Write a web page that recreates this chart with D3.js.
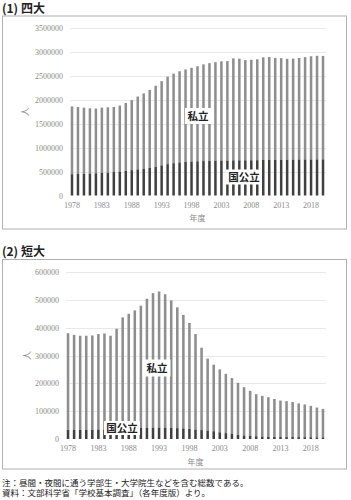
<!DOCTYPE html>
<html><head><meta charset="utf-8">
<script src="https://cdn.jsdelivr.net/npm/d3@7"></script>
<style>body{margin:0;background:#fff;}svg{display:block;}</style>
</head><body>
<svg id="c" width="351" height="500"></svg>
<script>
const years = d3.range(1978, 2021);
const tickYears = [1978,1983,1988,1993,1998,2003,2008,2013,2018];

// (1) 四大: 国公立 and total
const univPublic = [445000,450000,455000,460000,465000,470000,475000,490000,500000,515000,
  530000,545000,560000,580000,600000,630000,655000,675000,690000,700000,
  710000,715000,720000,725000,728000,730000,730000,735000,735000,735000,
  735000,738000,745000,748000,748000,748000,748000,750000,752000,752000,
  753000,755000,755000];
const univTotal = [1862000,1849000,1835000,1822000,1818000,1836000,1843000,1849000,1879000,1934000,
  1994000,2067000,2133000,2206000,2293000,2390000,2482000,2547000,2597000,2634000,
  2668000,2701000,2740000,2766000,2786000,2804000,2809000,2865000,2859000,2829000,
  2836000,2846000,2887000,2893000,2876000,2869000,2856000,2860000,2874000,2891000,
  2909000,2919000,2916000];
const univTicks = [0,500000,1000000,1500000,2000000,2500000,3000000,3500000];

// (2) 短大
const jcPublic = [33000,33000,33000,33000,33000,34000,34000,35000,35000,36000,
  37000,38000,40000,41000,41000,41000,41000,40000,39000,38000,
  36000,34000,32000,30000,28000,24000,21000,18000,15000,13000,
  11000,10000,9000,8500,8000,7500,7000,7000,6800,6500,
  6300,6000,5800];
const jcTotal = [380000,374000,371000,371000,372000,377000,379000,371000,396000,437000,
  450000,462000,479000,504000,524000,530000,520000,498000,473000,446000,
  417000,377000,328000,289000,267000,250000,234000,219000,202000,186000,
  173000,161000,155000,150000,144000,138000,136000,133000,128000,124000,
  119000,113000,108000];
const jcTicks = [0,100000,200000,300000,400000,500000,600000];

const titles = ["(1) 四大","(2) 短大"];
const seriesLabels = ["私立","国公立"];
const notes = ["注：昼間・夜間に通う学部生・大学院生などを含む総数である。",
  "資料：文部科学省「学校基本調査」（各年度版）より。"];

const svg = d3.select("#c");
const JP = "'Noto Sans CJK JP','Noto Sans',sans-serif";
const SERIF = "'Liberation Serif','DejaVu Serif',serif";
const cPriv = "#8e8e8e", cPub = "#404040";

function panel(cfg){
  const g = svg.append("g");
  g.append("text").attr("x",2).attr("y",cfg.titleY).attr("dy","0.36em").text(cfg.title)
    .attr("font-family",JP).attr("font-weight","bold").attr("font-size",12).attr("fill","#222");
  g.append("rect").attr("x",2.5).attr("y",cfg.boxTop).attr("width",344)
    .attr("height",cfg.boxBottom-cfg.boxTop).attr("fill","none").attr("stroke","#b0b0b0").attr("stroke-width",1);
  const x = d3.scaleBand().domain(years).range(cfg.xr).paddingInner(0.58).paddingOuter(0.29);
  const y = d3.scaleLinear().domain([0,cfg.max]).range(cfg.yr);
  g.append("g").selectAll("line").data(cfg.ticks.filter(d=>d>0)).join("line")
    .attr("x1",cfg.xr[0]+1).attr("x2",cfg.xr[1]).attr("y1",d=>Math.round(y(d))+0.5).attr("y2",d=>Math.round(y(d))+0.5)
    .attr("stroke","#e8e8e8").attr("stroke-width",1);
  const ya = d3.axisLeft(y).tickValues(cfg.ticks).tickSize(0).tickPadding(0).tickFormat(d=>String(d));
  const yg = g.append("g").attr("transform",`translate(${cfg.tickX},0)`).call(ya);
  yg.select(".domain").remove();
  yg.selectAll("text").attr("font-family",SERIF).attr("font-size",8).attr("fill","#8a8a8a");
  const data = years.map((yr,i)=>({yr, pub:cfg.pub[i], tot:cfg.tot[i]}));
  g.append("g").selectAll("rect").data(data).join("rect")
    .attr("x",d=>x(d.yr)).attr("width",x.bandwidth())
    .attr("y",d=>y(d.tot)).attr("height",d=>y(d.pub)-y(d.tot)).attr("fill",cPriv);
  g.append("g").selectAll("rect").data(data).join("rect")
    .attr("x",d=>x(d.yr)).attr("width",x.bandwidth())
    .attr("y",d=>y(d.pub)).attr("height",d=>y(0)-y(d.pub)).attr("fill",cPub);
  const xa = d3.axisBottom(x).tickValues(tickYears).tickSize(0).tickPadding(0);
  const xg = g.append("g").attr("transform",`translate(0,${cfg.xLabY})`).call(xa);
  xg.select(".domain").remove();
  xg.selectAll("text").attr("font-family",SERIF).attr("font-size",8).attr("fill","#8a8a8a").attr("dy","0.35em");
  const cx = (cfg.xr[0]+cfg.xr[1])/2;
  g.append("text").attr("x",cx).attr("y",cfg.nendoY).attr("text-anchor","middle").attr("dy","0.35em")
    .attr("font-family",JP).attr("font-size",8).attr("fill","#8a8a8a").text("年度");
  const ymid = (cfg.yr[0]+cfg.yr[1])/2;
  g.append("text").attr("transform",`translate(${cfg.unitX},${ymid}) rotate(-90)`).attr("text-anchor","middle")
    .attr("dy","0.35em").attr("font-family",JP).attr("font-size",9).attr("fill","#8a8a8a").text("人");
  cfg.labels.forEach(l=>{
    g.append("rect").attr("x",l.x-l.w/2).attr("y",l.y-l.h/2).attr("width",l.w).attr("height",l.h).attr("fill","#fff");
    g.append("text").attr("x",l.x).attr("y",l.y).attr("text-anchor","middle").attr("dy","0.36em")
      .attr("font-family",JP).attr("font-weight","bold").attr("font-size",10.5).attr("fill","#222").text(l.t);
  });
}

panel({title:titles[0], titleY:8.5, boxTop:16, boxBottom:229, xr:[69,326], yr:[195.5,28], max:3500000,
  ticks:univTicks, pub:univPublic, tot:univTotal, tickX:63, xLabY:205, nendoY:218, unitX:25,
  labels:[{t:seriesLabels[0],x:198,y:116,w:26,h:16},{t:seriesLabels[1],x:244,y:177,w:36,h:15}]});
panel({title:titles[1], titleY:251.5, boxTop:259.5, boxBottom:469, xr:[65,326], yr:[439,272], max:600000,
  ticks:jcTicks, pub:jcPublic, tot:jcTotal, tickX:59, xLabY:448, nendoY:462, unitX:27,
  labels:[{t:seriesLabels[0],x:157,y:368,w:27,h:17},{t:seriesLabels[1],x:122,y:428,w:36,h:14}]});

notes.forEach((n,i)=>{
  svg.append("text").attr("x",2).attr("y",482.5+i*10.5).attr("dy","0.36em").text(n)
    .attr("font-family",JP).attr("font-size",8.5).attr("fill","#222");
});
</script>
</body></html>
